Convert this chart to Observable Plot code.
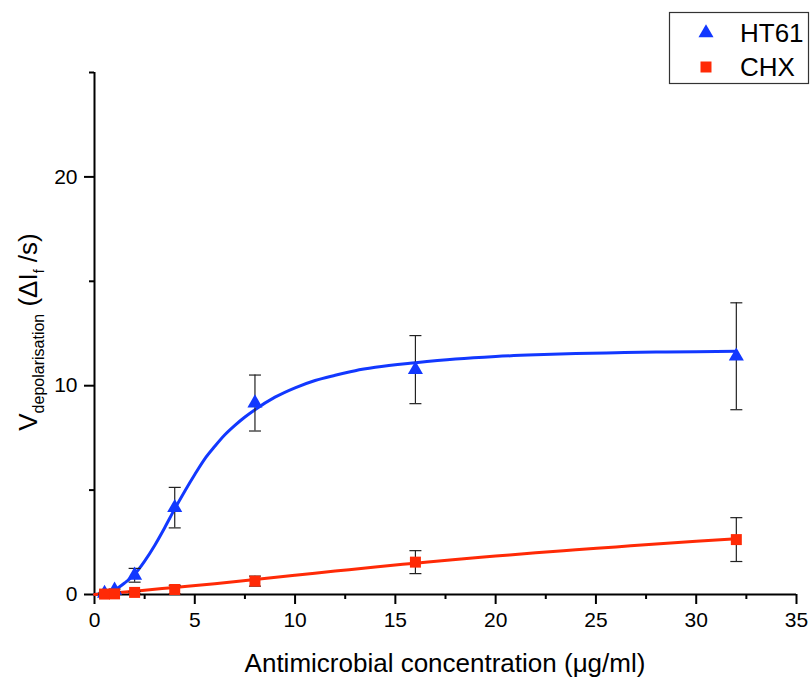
<!DOCTYPE html>
<html>
<head>
<meta charset="utf-8">
<script src="https://cdn.jsdelivr.net/npm/d3@7"></script>
<script src="https://cdn.jsdelivr.net/npm/@observablehq/plot@0.6"></script>
<style>
  body { margin: 0; background: #fff; }
  #chart { position: relative; width: 812px; height: 682px; }
</style>
</head>
<body>
<div id="chart"></div>
<script>
// ---- data ----
const conc = [0.5, 1, 2, 4, 8, 16, 32];
const ht61 = [0.05, 0.2, 0.92, 4.16, 9.17, 10.77, 11.41];
const ht61Err = [0.05, 0.06, 0.33, 0.97, 1.34, 1.63, 2.56];
const chx = [0.02, 0.03, 0.1, 0.24, 0.64, 1.55, 2.63];
const chxErr = [0.02, 0.02, 0.05, 0.2, 0.24, 0.55, 1.05];

const ht61FitX = [0, 0.5, 1, 1.5, 2, 2.5, 3, 3.5, 4, 4.5, 5, 5.5, 6, 6.5, 7, 7.5, 8, 9, 10, 11, 12, 13, 14, 16, 18, 20, 22, 24, 26, 28, 30, 32];
const ht61FitY = [0, 0.05, 0.22, 0.55, 0.97, 1.6, 2.35, 3.2, 4.1, 4.95, 5.75, 6.5, 7.1, 7.65, 8.1, 8.5, 8.85, 9.45, 9.9, 10.25, 10.5, 10.72, 10.88, 11.1, 11.28, 11.4, 11.48, 11.54, 11.58, 11.61, 11.63, 11.65];
const chxFitX = [0, 2, 4, 6, 8, 10, 12, 14, 16, 18, 20, 22, 24, 26, 28, 30, 32];
const chxFitY = [0, 0.16, 0.34, 0.52, 0.72, 0.92, 1.12, 1.32, 1.5, 1.68, 1.84, 2.0, 2.14, 2.28, 2.42, 2.55, 2.67];

const xMajor = [0, 5, 10, 15, 20, 25, 30, 35];
const xMinor = [2.5, 7.5, 12.5, 17.5, 22.5, 27.5, 32.5];
const yMajor = [0, 10, 20];
const yMinor = [5, 15, 25];

const seriesNames = ["HT61", "CHX"];
const colors = {HT61: "#1238ff", CHX: "#ff2a06"};
const symbols = {HT61: "triangle", CHX: "square"};
const radius = {HT61: 5.6, CHX: 6.2};

// ---- tables ----
const htPoints = conc.map((c, i) => ({series: "HT61", x: c, y: ht61[i], lo: ht61[i] - ht61Err[i], hi: ht61[i] + ht61Err[i]}));
const chxPoints = conc.map((c, i) => ({series: "CHX", x: c, y: chx[i], lo: chx[i] - chxErr[i], hi: chx[i] + chxErr[i]}));
const points = [...htPoints, ...chxPoints];
const htFit = ht61FitX.map((x, i) => ({x, y: ht61FitY[i]}));
const chxFit = chxFitX.map((x, i) => ({x, y: chxFitY[i]}));

const capSymbol = {
  draw(ctx, size) {
    const r = Math.sqrt(size / Math.PI);
    ctx.moveTo(-r, 0);
    ctx.lineTo(r, 0);
  }
};

const font = "'Liberation Sans', Arial, sans-serif";

const plot = Plot.plot({
  width: 812,
  height: 682,
  marginLeft: 94,
  marginRight: 16,
  marginTop: 72,
  marginBottom: 88,
  style: {fontFamily: font, fontSize: "21px", color: "black", background: "white"},
  x: {domain: [0, 35]},
  y: {domain: [0, 25]},
  marks: [
    Plot.axisX({ticks: xMajor, tickSize: 10, tickPadding: 8, strokeWidth: 2, label: null, fontSize: 21}),
    Plot.axisX({ticks: xMinor, tickSize: 5, strokeWidth: 2, text: null, label: null}),
    Plot.axisY({ticks: yMajor, tickSize: 10, tickPadding: 7, strokeWidth: 2, label: null, fontSize: 21}),
    Plot.axisY({ticks: yMinor, tickSize: 5, strokeWidth: 2, text: null, label: null}),
    Plot.ruleY([0], {stroke: "black", strokeWidth: 2}),
    Plot.ruleX([0], {stroke: "black", strokeWidth: 2}),
    Plot.line(htFit, {x: "x", y: "y", stroke: colors.HT61, curve: "monotone-x", strokeWidth: 3}),
    Plot.line(chxFit, {x: "x", y: "y", stroke: colors.CHX, curve: "monotone-x", strokeWidth: 3}),
    Plot.ruleX(points, {x: "x", y1: "lo", y2: "hi", stroke: "#222", strokeWidth: 1.2}),
    Plot.dot(points, {x: "x", y: "lo", symbol: capSymbol, r: 6, stroke: "#222", strokeWidth: 1.2, fill: "none"}),
    Plot.dot(points, {x: "x", y: "hi", symbol: capSymbol, r: 6, stroke: "#222", strokeWidth: 1.2, fill: "none"}),
    Plot.dot(htPoints, {x: "x", y: "y", symbol: symbols.HT61, fill: colors.HT61, r: radius.HT61, stroke: "none"}),
    Plot.dot(chxPoints, {x: "x", y: "y", symbol: symbols.CHX, fill: colors.CHX, r: radius.CHX, stroke: "none"})
  ]
});

document.getElementById("chart").appendChild(plot);

const svg = d3.select(plot);

// x axis title
svg.append("text")
  .attr("x", 445).attr("y", 672)
  .attr("text-anchor", "middle")
  .style("font-family", font).style("font-size", "26px").attr("fill", "black")
  .text("Antimicrobial concentration (\u03bcg/ml)");

// y axis title with subscripts
const yt = svg.append("text")
  .attr("transform", "translate(37,332) rotate(-90)")
  .attr("text-anchor", "middle")
  .style("font-family", font).style("font-size", "26px").attr("fill", "black");
yt.append("tspan").text("V");
yt.append("tspan").attr("dy", 7).style("font-size", "16px").text("depolarisation");
yt.append("tspan").attr("dy", -7).text(" (\u0394I");
yt.append("tspan").attr("dy", 7).style("font-size", "14px").text("f");
yt.append("tspan").attr("dy", -7).text(" /s)");

// legend
const lg = svg.append("g").attr("transform", "translate(669,12)");
lg.append("rect").attr("x", 0.5).attr("y", 0.5).attr("width", 139).attr("height", 71)
  .attr("fill", "white").attr("stroke", "#333").attr("stroke-width", 1.2);
const symMap = {triangle: d3.symbolTriangle, square: d3.symbolSquare};
seriesNames.forEach((name, i) => {
  const cy = 21 + i * 34;
  lg.append("path")
    .attr("transform", `translate(37,${cy})`)
    .attr("d", d3.symbol(symMap[symbols[name]], Math.PI * radius[name] * radius[name])())
    .attr("fill", colors[name]);
  lg.append("text")
    .attr("x", 71).attr("y", cy + 9)
    .attr("text-anchor", "start")
    .style("font-family", font).style("font-size", "26px").attr("fill", "black")
    .text(name);
});
</script>
</body>
</html>
